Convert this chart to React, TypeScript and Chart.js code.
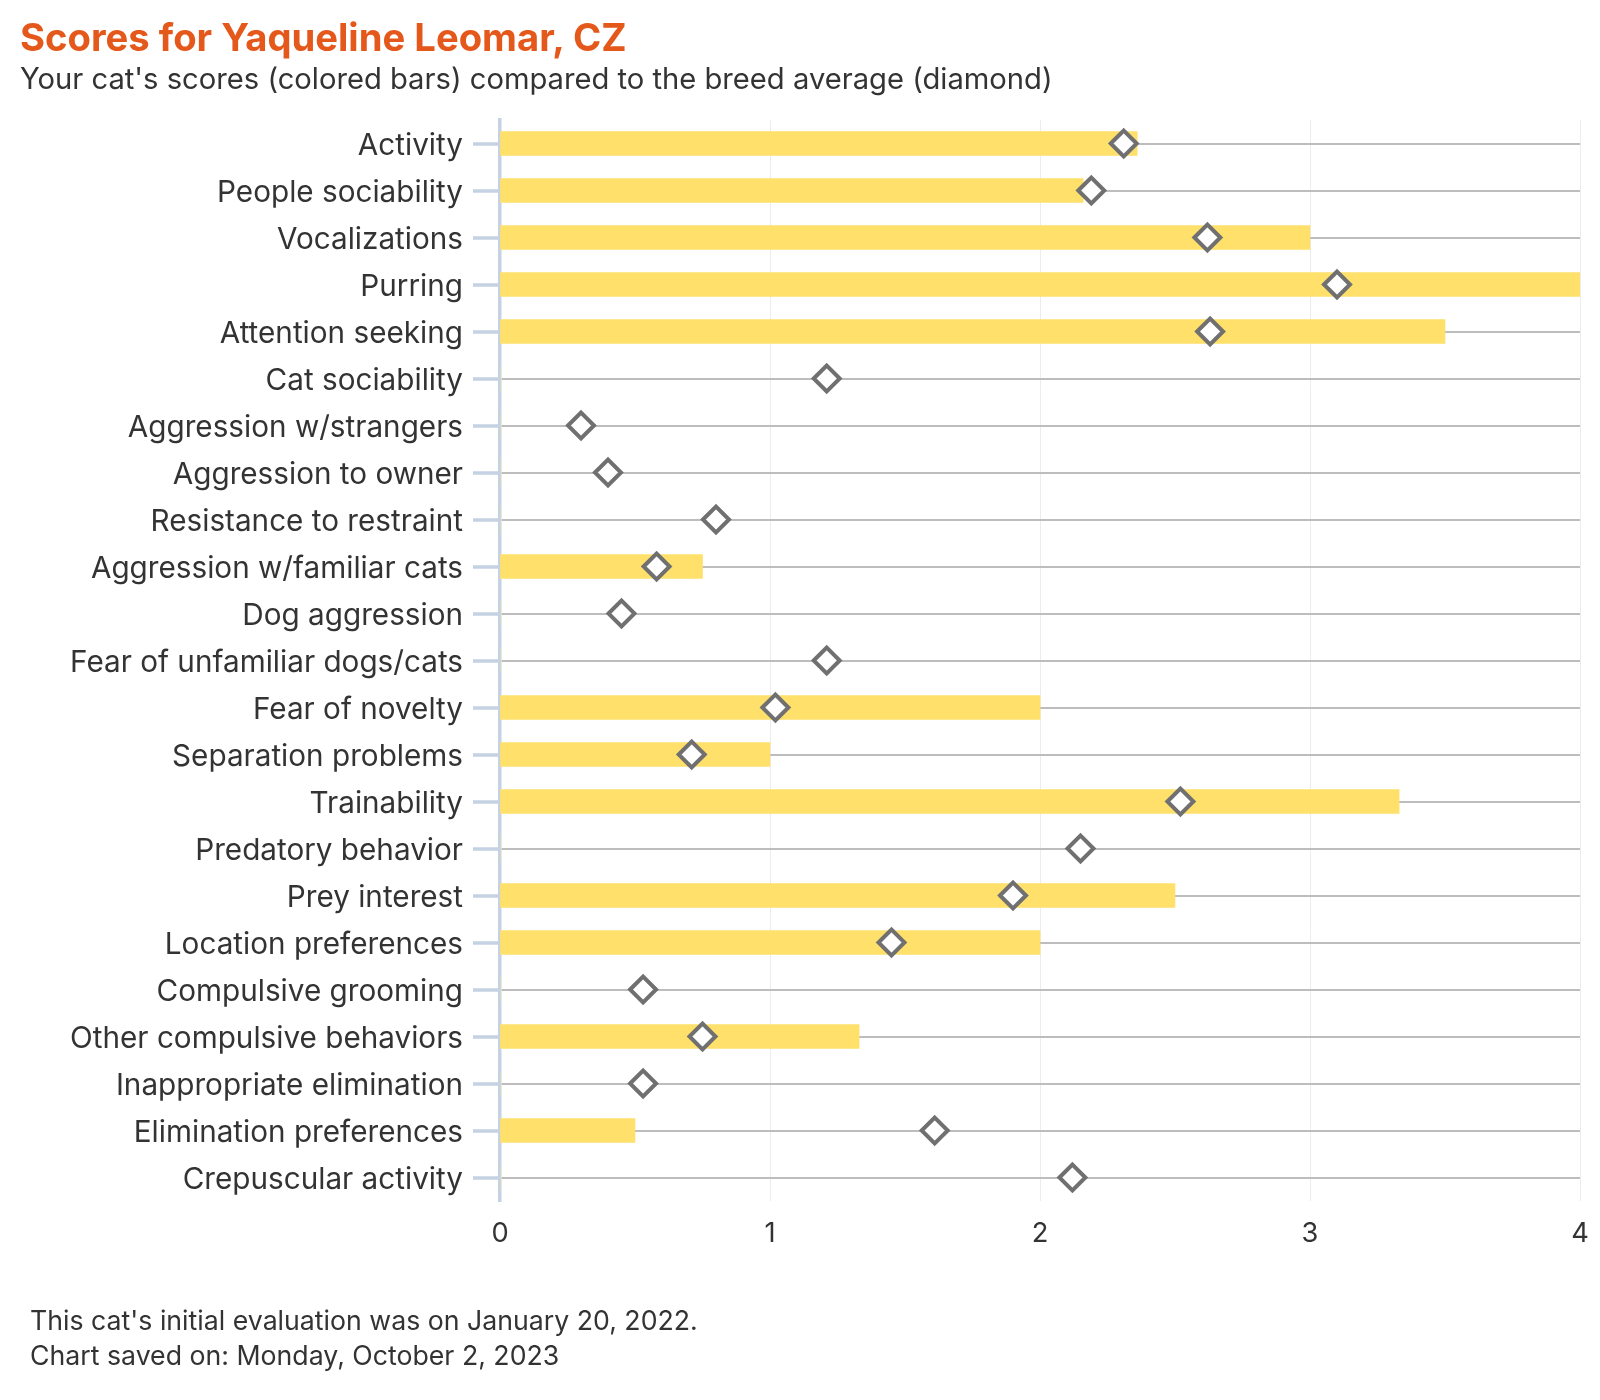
import React, { useEffect, useRef } from 'react';
import { Chart, registerables } from 'chart.js';

Chart.register(...registerables);

const categories = [
  'Activity',
  'People sociability',
  'Vocalizations',
  'Purring',
  'Attention seeking',
  'Cat sociability',
  'Aggression w/strangers',
  'Aggression to owner',
  'Resistance to restraint',
  'Aggression w/familiar cats',
  'Dog aggression',
  'Fear of unfamiliar dogs/cats',
  'Fear of novelty',
  'Separation problems',
  'Trainability',
  'Predatory behavior',
  'Prey interest',
  'Location preferences',
  'Compulsive grooming',
  'Other compulsive behaviors',
  'Inappropriate elimination',
  'Elimination preferences',
  'Crepuscular activity',
];

const catScores = [
  2.36, 2.16, 3.0, 4.0, 3.5, 0, 0, 0, 0, 0.75, 0, 0, 2.0, 1.0, 3.33, 0, 2.5, 2.0, 0, 1.33, 0, 0.5, 0,
];

const breedAverage = [
  2.31, 2.19, 2.62, 3.1, 2.63, 1.21, 0.3, 0.4, 0.8, 0.58, 0.45, 1.21, 1.02, 0.71, 2.52, 2.15, 1.9, 1.45,
  0.53, 0.75, 0.53, 1.61, 2.12,
];

const xMin = 0;
const xMax = 4;

const titleText = 'Scores for Yaqueline Leomar, CZ';
const subtitleText = "Your cat's scores (colored bars) compared to the breed average (diamond)";
const footerLines = [
  "This cat's initial evaluation was on January 20, 2022.",
  'Chart saved on: Monday, October 2, 2023',
];

const FONT = 'Inter';

function fitSize(text: string, weight: string, target: number): number {
  const c = document.createElement('canvas').getContext('2d');
  if (!c) return 24;
  c.font = `${weight} 100px ${FONT}`;
  const w = c.measureText(text).width;
  return (100 * target) / w;
}

export default function App() {
  const ref = useRef<HTMLCanvasElement | null>(null);

  const titleSize = fitSize(titleText, '700', 608);
  const subSize = fitSize(subtitleText, '400', 1033);
  const labelSize = fitSize('Fear of unfamiliar dogs/cats', '400', 393);
  const footSize = fitSize(footerLines[0], '400', 668);

  useEffect(() => {
    document.body.style.margin = '0';
    const canvas = ref.current;
    if (!canvas) return;
    const chart = new Chart(canvas, {
      type: 'bar',
      data: {
        labels: categories,
        datasets: [
          {
            type: 'line',
            label: 'Breed average',
            data: breedAverage,
            indexAxis: 'y',
            showLine: false,
            pointStyle: 'rectRot',
            pointRadius: 13,
            pointHoverRadius: 13,
            pointBorderWidth: 4,
            pointBorderColor: '#707070',
            pointBackgroundColor: '#ffffff',
            borderColor: '#707070',
            backgroundColor: '#ffffff',
            clip: false,
            order: 0,
          } as any,
          {
            type: 'bar',
            label: "Cat's scores",
            data: catScores,
            backgroundColor: '#FEE06A',
            borderWidth: 0,
            barThickness: 24,
            order: 1,
          },
        ],
      },
      options: {
        indexAxis: 'y',
        responsive: false,
        animation: false,
        devicePixelRatio: 1,
        layout: { autoPadding: false, padding: { top: 120, right: 20, left: 0, bottom: 0 } },
        plugins: {
          legend: { display: false },
          tooltip: { enabled: false },
          title: { display: false },
        },
        scales: {
          x: {
            type: 'linear',
            position: 'bottom',
            min: xMin,
            max: xMax,
            ticks: {
              stepSize: 1,
              color: '#333333',
              font: { family: FONT, size: labelSize * 0.92 },
              padding: 2,
            },
            grid: {
              color: '#ececec',
              lineWidth: 1,
              drawTicks: true,
              tickLength: 14,
              tickColor: 'rgba(0,0,0,0)',
            },
            border: { display: false },
            afterFit: (scale: any) => {
              scale.height = 199;
            },
          },
          y: {
            type: 'category',
            ticks: {
              color: '#333333',
              font: { family: FONT, size: labelSize },
              padding: 10,
              labelOffset: 3,
              autoSkip: false,
            },
            grid: {
              offset: false,
              color: '#bdbdbd',
              lineWidth: 2,
              tickColor: '#c4d2e3',
              tickWidth: 3.5,
              tickLength: 27,
            },
            border: { color: '#c4d2e3', width: 3.5 },
            afterFit: (scale: any) => {
              scale.width = 500;
            },
          },
        },
      } as any,
    });
    return () => chart.destroy();
  }, [labelSize]);

  const textColor = '#333333';

  return (
    <div style={{ position: 'relative', width: 1600, height: 1400, background: '#ffffff', fontFamily: FONT }}>
      <canvas ref={ref} width={1600} height={1400} style={{ position: 'absolute', left: 0, top: 0, width: 1600, height: 1400 }} />
      <div
        style={{
          position: 'absolute',
          left: 20,
          top: 37 - titleSize / 2,
          lineHeight: `${titleSize}px`,
          fontSize: titleSize,
          fontWeight: 700,
          color: '#E5581B',
          whiteSpace: 'nowrap',
        }}
      >
        {titleText}
      </div>
      <div
        style={{
          position: 'absolute',
          left: 20,
          top: 79 - subSize / 2,
          lineHeight: `${subSize}px`,
          fontSize: subSize,
          color: textColor,
          whiteSpace: 'nowrap',
        }}
      >
        {subtitleText}
      </div>
      {footerLines.map((line, i) => (
        <div
          key={i}
          style={{
            position: 'absolute',
            left: 30,
            top: 1320 + i * 35 - footSize / 2,
            lineHeight: `${footSize}px`,
            fontSize: footSize,
            color: textColor,
            whiteSpace: 'nowrap',
          }}
        >
          {line}
        </div>
      ))}
    </div>
  );
}
